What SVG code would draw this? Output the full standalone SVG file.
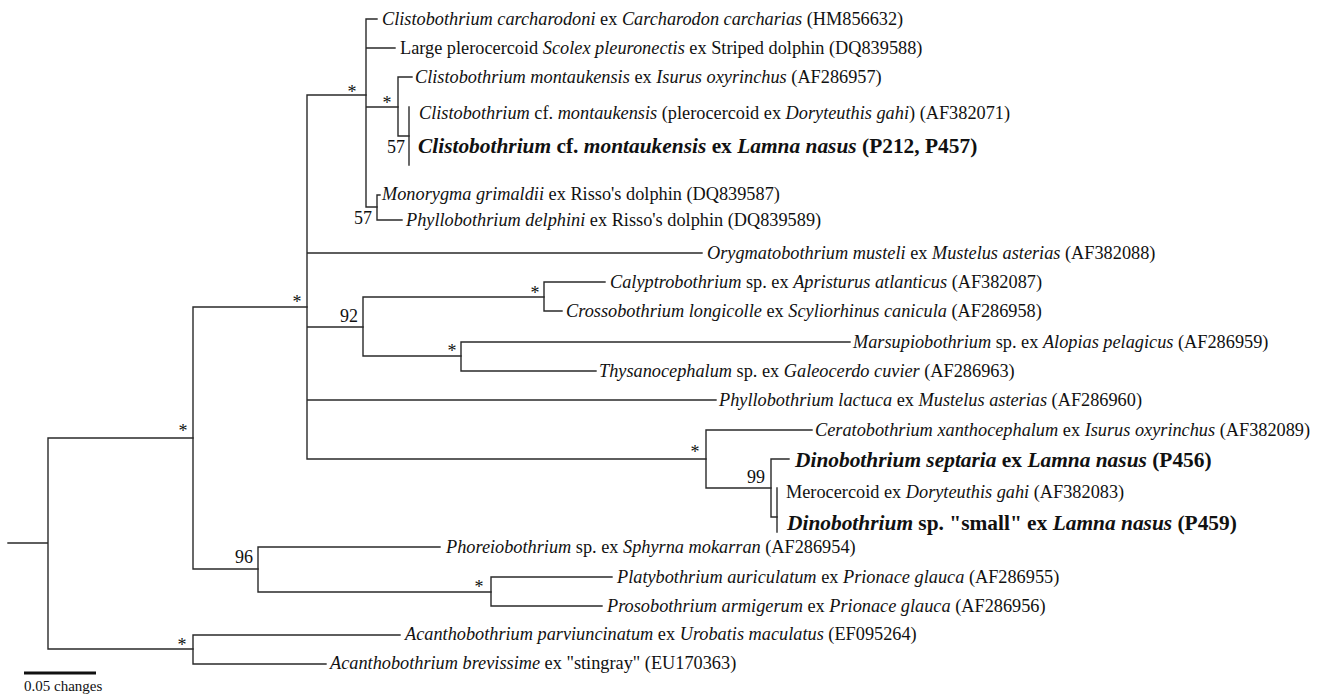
<svg xmlns="http://www.w3.org/2000/svg" width="1328" height="696" viewBox="0 0 1328 696">
<style>
  .br{fill:none;stroke:#2a2a2a;stroke-width:1.4;stroke-linecap:square}
  text{font-family:"Liberation Serif","Times New Roman",serif;fill:#111}
  .lb{font-size:18.3px}
  .bd{font-size:21.4px;font-weight:bold}
  .it{font-style:italic}
  .sv{font-size:18px}
  .st{font-size:18px;text-anchor:middle}
  .scale{font-size:15px}
</style>
<rect width="1328" height="696" fill="#fff"/>
<g id="connectors" class="br">
  <path d="M8,543H48M48,438V649M48,438H193M48,649H193"/>
  <path d="M193,307V569M193,307H307M193,569H258"/>
  <path d="M307,95V459M307,95H366M307,253H702M307,327H363M307,400H716M307,459H706"/>
  <path d="M366,19V207M366,19H377M366,48H395M366,107H398M366,207H377"/>
  <path d="M398,77V136M398,77H412M398,136H409"/>
  <path d="M409,107V165"/>
  <path d="M377,195V220M377,195H380M377,220H402"/>
  <path d="M363,297V356M363,297H544M363,356H461"/>
  <path d="M544,282V311M544,282H605M544,311H562"/>
  <path d="M461,342V371M461,342H850M461,371H596"/>
  <path d="M706,430V488M706,430H812M706,488H771"/>
  <path d="M771,459V517M771,459H789M771,517H777"/>
  <path d="M777,488V532"/>
  <path d="M258,547V592M258,547H440M258,592H491"/>
  <path d="M491,577V606M491,577H612M491,606H602"/>
  <path d="M193,635V664M193,635H400M193,664H326"/>
</g>
<g id="internal-nodes">
  <g id="n-root-ingroup"><text class="st" x="183" y="437">*</text></g>
  <g id="n-main"><text class="st" x="297" y="308">*</text></g>
  <g id="n-clisto"><text class="st" x="352" y="98">*</text></g>
  <g id="n-clisto-mont"><text class="st" x="387" y="109">*</text></g>
  <g id="n-clisto-cf"><text class="sv" x="387" y="153">57</text></g>
  <g id="n-monorygma"><text class="sv" x="354" y="224">57</text></g>
  <g id="n-92"><text class="sv" x="340" y="322">92</text></g>
  <g id="n-calypto"><text class="st" x="535" y="299">*</text></g>
  <g id="n-marsupio"><text class="st" x="452" y="357">*</text></g>
  <g id="n-cerato"><text class="st" x="695" y="458">*</text></g>
  <g id="n-dino"><text class="sv" x="747" y="483">99</text></g>
  <g id="n-dino-inner"></g>
  <g id="n-96"><text class="sv" x="235" y="563">96</text></g>
  <g id="n-platy"><text class="st" x="479" y="593">*</text></g>
  <g id="n-acantho"><text class="st" x="182" y="651">*</text></g>
</g>
<g id="tips">
  <g id="t1"><text class="lb" x="382" y="25"><tspan class="it">Clistobothrium carcharodoni</tspan> ex <tspan class="it">Carcharodon carcharias</tspan> (HM856632)</text></g>
  <g id="t2"><text class="lb" x="400" y="54">Large plerocercoid <tspan class="it">Scolex pleuronectis</tspan> ex Striped dolphin (DQ839588)</text></g>
  <g id="t3"><text class="lb" x="415" y="83"><tspan class="it">Clistobothrium montaukensis</tspan> ex <tspan class="it">Isurus oxyrinchus</tspan> (AF286957)</text></g>
  <g id="t4"><text class="lb" x="419" y="119"><tspan class="it">Clistobothrium</tspan> cf. <tspan class="it">montaukensis</tspan> (plerocercoid ex <tspan class="it">Doryteuthis gahi</tspan>) (AF382071)</text></g>
  <g id="t5"><text class="bd" x="418" y="153"><tspan class="it">Clistobothrium</tspan> cf. <tspan class="it">montaukensis</tspan> ex <tspan class="it">Lamna nasus</tspan> (P212, P457)</text></g>
  <g id="t6"><text class="lb" x="382" y="200"><tspan class="it">Monorygma grimaldii</tspan> ex Risso's dolphin (DQ839587)</text></g>
  <g id="t7"><text class="lb" x="406" y="226"><tspan class="it">Phyllobothrium delphini</tspan> ex Risso's dolphin (DQ839589)</text></g>
  <g id="t8"><text class="lb" x="707" y="259"><tspan class="it">Orygmatobothrium musteli</tspan> ex <tspan class="it">Mustelus asterias</tspan> (AF382088)</text></g>
  <g id="t9"><text class="lb" x="610" y="288"><tspan class="it">Calyptrobothrium</tspan> sp. ex <tspan class="it">Apristurus atlanticus</tspan> (AF382087)</text></g>
  <g id="t10"><text class="lb" x="566" y="317"><tspan class="it">Crossobothrium longicolle</tspan> ex <tspan class="it">Scyliorhinus canicula</tspan> (AF286958)</text></g>
  <g id="t11"><text class="lb" x="853" y="348"><tspan class="it">Marsupiobothrium</tspan> sp. ex <tspan class="it">Alopias pelagicus</tspan> (AF286959)</text></g>
  <g id="t12"><text class="lb" x="599" y="377"><tspan class="it">Thysanocephalum</tspan> sp. ex <tspan class="it">Galeocerdo cuvier</tspan> (AF286963)</text></g>
  <g id="t13"><text class="lb" x="719" y="406"><tspan class="it">Phyllobothrium lactuca</tspan> ex <tspan class="it">Mustelus asterias</tspan> (AF286960)</text></g>
  <g id="t14"><text class="lb" x="815" y="436"><tspan class="it">Ceratobothrium xanthocephalum</tspan> ex <tspan class="it">Isurus oxyrinchus</tspan> (AF382089)</text></g>
  <g id="t15"><text class="bd" x="795" y="467"><tspan class="it">Dinobothrium septaria</tspan> ex <tspan class="it">Lamna nasus</tspan> (P456)</text></g>
  <g id="t16"><text class="lb" x="786" y="498">Merocercoid ex <tspan class="it">Doryteuthis gahi</tspan> (AF382083)</text></g>
  <g id="t17"><text class="bd" x="787" y="530"><tspan class="it">Dinobothrium</tspan> sp. "small" ex <tspan class="it">Lamna nasus</tspan> (P459)</text></g>
  <g id="t18"><text class="lb" x="446" y="553"><tspan class="it">Phoreiobothrium</tspan> sp. ex <tspan class="it">Sphyrna mokarran</tspan> (AF286954)</text></g>
  <g id="t19"><text class="lb" x="617" y="583"><tspan class="it">Platybothrium auriculatum</tspan> ex <tspan class="it">Prionace glauca</tspan> (AF286955)</text></g>
  <g id="t20"><text class="lb" x="607" y="612"><tspan class="it">Prosobothrium armigerum</tspan> ex <tspan class="it">Prionace glauca</tspan> (AF286956)</text></g>
  <g id="t21"><text class="lb" x="405" y="640"><tspan class="it">Acanthobothrium parviuncinatum</tspan> ex <tspan class="it">Urobatis maculatus</tspan> (EF095264)</text></g>
  <g id="t22"><text class="lb" x="330" y="669"><tspan class="it">Acanthobothrium brevissime</tspan> ex "stingray" (EU170363)</text></g>
</g>
<g id="scale-bar">
  <path d="M24,673H96" stroke="#111" stroke-width="3"/>
  <text class="scale" x="24" y="691">0.05 changes</text>
</g>
</svg>
